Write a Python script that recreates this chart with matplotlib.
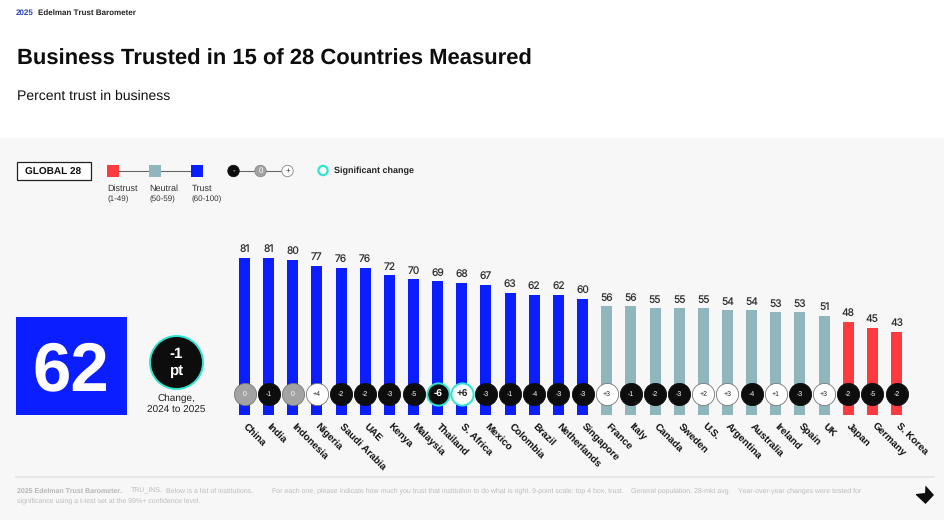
import matplotlib.pyplot as plt
from matplotlib.patches import Rectangle, Circle, Polygon

plt.rcParams['font.family'] = ['Liberation Sans', 'DejaVu Sans']
plt.rcParams['text.hinting'] = 'no_hinting'
plt.rcParams['text.hinting_factor'] = 1

countries = ['China', 'India', 'Indonesia', 'Nigeria', 'Saudi Arabia', 'UAE', 'Kenya', 'Malaysia',
             'Thailand', 'S. Africa', 'Mexico', 'Colombia', 'Brazil', 'Netherlands', 'Singapore',
             'France', 'Italy', 'Canada', 'Sweden', 'U.S.', 'Argentina', 'Australia', 'Ireland',
             'Spain', 'UK', 'Japan', 'Germany', 'S. Korea']
trust = [81, 81, 80, 77, 76, 76, 72, 70, 69, 68, 67, 63, 62, 62, 60,
         56, 56, 55, 55, 55, 54, 54, 53, 53, 51, 48, 45, 43]
change = [0, -1, 0, 4, -2, -2, -3, -5, -6, 6, -3, -1, -4, -3, -3,
          3, -1, -2, -3, 2, 3, -4, 1, -3, 3, -2, -5, -2]
significant = ['Thailand', 'S. Africa']
footer_sentences = ['TRU_INS.', 'Below is a list of institutions.',
                    'For each one, please indicate how much you trust that institution to do what is right.',
                    '9-point scale; top 4 box, trust.', 'General population, 28-mkt avg.',
                    'Year-over-year changes were tested for']

BLUE = '#0a1eff'
NEUTRAL = '#8fb5bd'
RED = '#ff3b3f'
BLACK = '#0d0d0d'
GREY = '#a3a3a3'
TEAL = '#2ce6cf'
W, H = 944, 520

fig = plt.figure(figsize=(W / 100, H / 100), dpi=100, facecolor='white')

# overlay in pixel coords for everything that isnt the chart
bg = fig.add_axes([0, 0, 1, 1])
bg.set_xlim(0, W)
bg.set_ylim(H, 0)
bg.axis('off')
bg.add_patch(Rectangle((0, 138), W, H - 138, fc='#f7f7f7', ec='none'))

bg.text(16, 13, '2025', fontsize=6.05, fontweight='bold', color='#2a45b5', va='center')
bg.text(38.5, 13, 'Edelman Trust Barometer', fontsize=6.05, fontweight='bold', color='#222222', va='center')
bg.text(17, 59, 'Business Trusted in 15 of 28 Countries Measured', fontsize=15.9, fontweight='bold',
        color='#0d0d0d', va='center')
bg.text(17, 96, 'Percent trust in business', fontsize=10.1, color='#111111', va='center')

# legend
bg.add_patch(Rectangle((16.5, 161.5), 74, 18, fc='white', ec='#222222', lw=0.9))
bg.text(53.5, 172, 'GLOBAL 28', fontsize=7.2, fontweight='bold', color='#111111', ha='center', va='center')
bg.plot([113, 197], [171, 171], color='#666666', lw=0.8)
for x, c, name, rng in [(107, RED, 'Distrust', '(1-49)'), (149, NEUTRAL, 'Neutral', '(50-59)'),
                        (191, BLUE, 'Trust', '(60-100)')]:
    bg.add_patch(Rectangle((x, 165), 12, 12, fc=c, ec='none', zorder=3))
    bg.text(x + 0.7, 189, name, fontsize=6.2, color='#333333', va='center')
    bg.text(x + 0.7, 199.5, rng, fontsize=5.9, color='#333333', va='center')
bg.plot([233, 288], [171, 171], color='#666666', lw=0.8)
for x, fc, ec, tc, s in [(233.5, BLACK, BLACK, 'white', '-'), (260.5, GREY, '#888888', 'white', '0'),
                         (287.5, 'white', '#888888', '#333333', '+')]:
    bg.add_patch(Circle((x, 171), 5.7, fc=fc, ec=ec, lw=0.6, zorder=3))
    bg.text(x, 171, s, fontsize=6, color=tc, ha='center', va='center', zorder=4)
bg.add_patch(Circle((323, 170.5), 4.6, fc='white', ec=TEAL, lw=1.6))
bg.text(333.5, 171, 'Significant change', fontsize=6.5, fontweight='bold', color='#222222', va='center')

# global number
bg.add_patch(Rectangle((16, 317), 111, 98, fc=BLUE, ec='none'))
bg.text(70.5, 365, '62', fontsize=50, fontweight='bold', color='white', ha='center', va='center_baseline')
bg.add_patch(Circle((176.5, 362.5), 26.5, fc=BLACK, ec=TEAL, lw=1.4))
bg.text(176.5, 354, '-1', fontsize=11, fontweight='bold', color='white', ha='center', va='center')
bg.text(176.5, 371, 'pt', fontsize=11, fontweight='bold', color='white', ha='center', va='center')
bg.text(176.5, 398, 'Change,', fontsize=7, color='#222222', ha='center', va='center')
bg.text(176.5, 410, '2024 to 2025', fontsize=7, color='#222222', ha='center', va='center')

# footer, font sizes jump so each sentence gets its own start
bg.plot([16, 934], [477, 477], color='#e4e4e4', lw=1.2)
bg.text(17, 491, '2025 Edelman Trust Barometer.', fontsize=5.4, fontweight='bold', color='#b5b5b5', va='center')
for x, s in zip([130.5, 166.5, 272, 532.5, 631, 738], footer_sentences):
    bg.text(x, 491, s, fontsize=5.4, color='#bcbcbc', va='center')
bg.text(17, 501, 'significance using a t-test set at the 99%+ confidence level.', fontsize=5.4, color='#bcbcbc',
        va='center')
bg.add_patch(Polygon([(916, 494), (925, 493), (925.5, 485.5), (934, 495), (925.5, 504), (916, 495)],
                     fc=BLACK, ec='none'))

# chart, 1 value unit = 1.94 px
x0, step = 244.5, 24.15
ax = fig.add_axes([(x0 - step / 2) / W, (H - 415) / H, step * 28 / W, 194 / H])
ax.set_xlim(-0.5, 27.5)
ax.set_ylim(0, 100)
ax.axis('off')
ax.patch.set_alpha(0)

colors = [BLUE if v >= 60 else NEUTRAL if v >= 50 else RED for v in trust]
xs = list(range(len(trust)))
ax.bar(xs, trust, width=11 / step, color=colors)

for i, v in enumerate(trust):
    ax.annotate(str(v), (i, v), xytext=(0, 2.6), textcoords='offset points', ha='center', va='bottom',
                fontsize=7.4, color='#333333', family=['Inter', 'DejaVu Sans'])

    d = change[i]
    label = f'+{d}' if d > 0 else str(d)
    sig = countries[i] in significant
    fc = GREY if d == 0 else ('white' if d > 0 else BLACK)
    tc = '#222222' if d > 0 else 'white'
    ec = TEAL if sig else ('#777777' if d >= 0 else BLACK)
    ax.scatter(i, 10.8, s=255, facecolor=fc, edgecolor=ec, linewidth=1.4 if sig else 0.6, zorder=3, clip_on=False)
    ax.text(i, 10.6, label, fontsize=7.5 if sig else 5.3, fontweight='bold' if sig else 'normal', color=tc,
            ha='center', va='center', zorder=4)

    ax.annotate(countries[i], (i, 0), xytext=(0, -7), textcoords='offset points', rotation=-45,
                rotation_mode='anchor', ha='left', va='center', fontsize=6.9, fontweight='bold',
                color='#111111', annotation_clip=False)

fig.savefig('out.png', dpi=100, facecolor=fig.get_facecolor())
